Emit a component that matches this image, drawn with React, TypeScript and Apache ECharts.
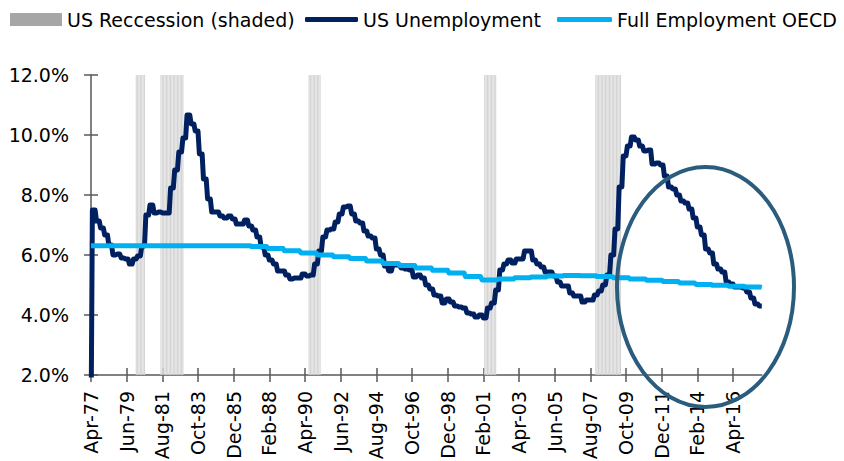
import React, { useEffect, useRef } from "react";
import * as echarts from "echarts";

const MONTHS = ["Jan", "Feb", "Mar", "Apr", "May", "Jun", "Jul", "Aug", "Sep", "Oct", "Nov", "Dec"];
const START_YEAR = 1977;
const START_MONTH = 3; // Apr
const MONTH_COUNT = 490; // Apr-77 .. Jan-18

// US unemployment rate, quarterly averages Q1-1977 .. Q3-2017 (%), each held for three months
const UNEMP_QUARTERLY = [
  7.5, 7.13, 6.9, 6.67,
  6.33, 6.0, 6.03, 5.9,
  5.87, 5.7, 5.87, 5.97,
  6.3, 7.33, 7.67, 7.4,
  7.43, 7.4, 7.4, 8.23,
  8.83, 9.43, 9.9, 10.67,
  10.37, 10.13, 9.37, 8.53,
  7.87, 7.43, 7.43, 7.3,
  7.23, 7.3, 7.2, 7.03,
  7.03, 7.17, 6.97, 6.83,
  6.6, 6.27, 6.0, 5.83,
  5.7, 5.47, 5.47, 5.33,
  5.2, 5.23, 5.23, 5.37,
  5.3, 5.33, 5.7, 6.13,
  6.6, 6.83, 6.87, 7.1,
  7.37, 7.6, 7.63, 7.37,
  7.13, 7.07, 6.8, 6.63,
  6.57, 6.2, 6.0, 5.63,
  5.47, 5.67, 5.67, 5.57,
  5.53, 5.5, 5.27, 5.33,
  5.23, 5.0, 4.87, 4.67,
  4.63, 4.4, 4.53, 4.43,
  4.3, 4.27, 4.23, 4.07,
  4.03, 3.93, 4.0, 3.9,
  4.23, 4.4, 4.83, 5.5,
  5.7, 5.83, 5.73, 5.87,
  5.87, 6.13, 6.13, 5.83,
  5.7, 5.6, 5.43, 5.43,
  5.3, 5.1, 4.97, 4.97,
  4.73, 4.63, 4.63, 4.43,
  4.5, 4.5, 4.67, 4.8,
  5.0, 5.33, 6.0, 6.87,
  8.27, 9.3, 9.63, 9.93,
  9.83, 9.63, 9.47, 9.5,
  9.03, 9.07, 9.0, 8.63,
  8.27, 8.2, 8.0, 7.8,
  7.73, 7.53, 7.23, 6.93,
  6.67, 6.2, 6.07, 5.7,
  5.53, 5.43, 5.1, 5.03,
  4.93, 4.93, 4.9, 4.77,
  4.57, 4.37, 4.3,
];
const UNEMP_FIRST_VALUE = 0; // the sheet's leading empty cell, drawn as a drop to the axis

// OECD full-employment (NAIRU) estimate, annual 1977 .. 2018 (%)
const OECD_ANNUAL = [
  6.31, 6.31, 6.31, 6.31, 6.31, 6.31, 6.31, 6.31, 6.31, 6.31,
  6.28, 6.22, 6.14, 6.07, 6.0, 5.94, 5.88, 5.8, 5.72, 5.65,
  5.57, 5.49, 5.4, 5.28, 5.17, 5.2, 5.24, 5.27, 5.3, 5.32,
  5.31, 5.28, 5.24, 5.2, 5.16, 5.12, 5.07, 5.02, 4.99, 4.96,
  4.93, 4.92,
];

// NBER recessions (first month, last month)
const RECESSIONS = [
  ["Jan-80", "Jul-80"],
  ["Jul-81", "Nov-82"],
  ["Jul-90", "Mar-91"],
  ["Mar-01", "Nov-01"],
  ["Dec-07", "Jun-09"],
];
const RECESSION_HEIGHT = 12;

const Y_MIN = 2;
const Y_MAX = 12;
const Y_STEP = 2;
const LABEL_EVERY = 26;

const NAMES = ["US Reccession (shaded)", "US Unemployment", "Full Employment OECD"];

const FONT = "DejaVu Sans";

function buildCategories() {
  const cats: string[] = [];
  const years: number[] = [];
  for (let i = 0; i < MONTH_COUNT; i++) {
    const m = START_MONTH + i;
    const y = START_YEAR + Math.floor(m / 12);
    cats.push(MONTHS[m % 12] + "-" + String(y % 100).padStart(2, "0"));
    years.push(y);
  }
  return { cats, years };
}

export default function App() {
  const ref = useRef<HTMLDivElement>(null);

  useEffect(() => {
    if (!ref.current) return;
    const chart = echarts.init(ref.current, undefined, { renderer: "svg" });
    const { cats, years } = buildCategories();

    const unemp: number[] = [UNEMP_FIRST_VALUE];
    UNEMP_QUARTERLY.forEach((v) => unemp.push(v, v, v));
    const oecd = years.map((y) => OECD_ANNUAL[y - START_YEAR]);
    const rec: (number | string)[] = cats.map(() => "-");
    RECESSIONS.forEach(([a, b]) => {
      const s = cats.indexOf(a);
      const e = cats.indexOf(b);
      for (let i = s; i <= e; i++) rec[i] = RECESSION_HEIGHT;
    });

    const axisColor = "#595959";
    const legendText = { fontFamily: FONT, fontSize: 19, color: "#000" };

    chart.setOption({
      animation: false,
      backgroundColor: "#fff",
      grid: {
        left: 91,
        right: 82.2,
        top: 75,
        bottom: 86,
        containLabel: false,
        outerBoundsMode: "none",
      },
      legend: [
        {
          left: 5,
          top: 5,
          selectedMode: false,
          itemWidth: 52,
          itemHeight: 13,
          textStyle: legendText,
          data: [{ name: NAMES[0], icon: "rect", itemStyle: { color: "#A6A6A6" } }],
        },
        {
          left: 300,
          top: 5,
          selectedMode: false,
          itemWidth: 53,
          itemHeight: 5,
          textStyle: legendText,
          data: [{ name: NAMES[1], icon: "roundRect", itemStyle: { color: "#002060" } }],
        },
        {
          left: 552,
          top: 5,
          selectedMode: false,
          itemWidth: 55,
          itemHeight: 5,
          textStyle: legendText,
          data: [{ name: NAMES[2], icon: "roundRect", itemStyle: { color: "#00B0F0" } }],
        },
      ],
      xAxis: [
        {
          type: "category",
          data: cats,
          boundaryGap: false,
          position: "bottom",
          axisLine: { show: true, onZero: false, lineStyle: { color: axisColor, width: 1.5 } },
          axisTick: { show: true, inside: false, length: 7, interval: LABEL_EVERY - 1, lineStyle: { color: axisColor, width: 1.5 } },
          axisLabel: {
            interval: LABEL_EVERY - 1,
            rotate: 90,
            margin: 16,
            fontFamily: FONT,
            fontSize: 19,
            color: "#000",
          },
          splitLine: { show: false },
        },
        {
          type: "category",
          data: cats,
          boundaryGap: false,
          position: "bottom",
          axisLine: { show: false, onZero: false },
          axisTick: { show: true, inside: true, length: 7, interval: LABEL_EVERY - 1, lineStyle: { color: axisColor, width: 1.5 } },
          axisLabel: { show: false },
          splitLine: { show: false },
        },
      ],
      yAxis: [
        {
          type: "value",
          min: Y_MIN,
          max: Y_MAX,
          interval: Y_STEP,
          position: "left",
          axisLine: { show: true, onZero: false, lineStyle: { color: axisColor, width: 1.5 } },
          axisTick: { show: true, inside: false, length: 7, lineStyle: { color: axisColor, width: 1.5 } },
          axisLabel: {
            margin: 22,
            fontFamily: FONT,
            fontSize: 19,
            color: "#000",
            formatter: (v: number) => v.toFixed(1) + "%",
          },
          splitLine: { show: false },
        },
        {
          type: "value",
          min: Y_MIN,
          max: Y_MAX,
          interval: Y_STEP,
          position: "left",
          axisLine: { show: false, onZero: false },
          axisTick: { show: true, inside: true, length: 7, lineStyle: { color: axisColor, width: 1.5 } },
          axisLabel: { show: false },
          splitLine: { show: false },
        },
      ],
      series: [
        {
          name: NAMES[0],
          type: "bar",
          data: rec,
          xAxisIndex: 0,
          yAxisIndex: 0,
          barCategoryGap: "20%",
          itemStyle: { color: "#D4D4D4" },
          z: 1,
        },
        {
          name: NAMES[1],
          type: "line",
          data: unemp,
          xAxisIndex: 0,
          yAxisIndex: 0,
          showSymbol: false,
          color: "#002060",
          lineStyle: { color: "#002060", width: 5, join: "round" },
          z: 3,
        },
        {
          name: NAMES[2],
          type: "line",
          data: oecd,
          xAxisIndex: 0,
          yAxisIndex: 0,
          showSymbol: false,
          color: "#00B0F0",
          lineStyle: { color: "#00B0F0", width: 5, join: "round" },
          z: 4,
        },
      ],
      graphic: [
        {
          type: "ellipse",
          shape: { cx: 705.5, cy: 287, rx: 88.5, ry: 120 },
          style: { fill: "none", stroke: "#2B5C7D", lineWidth: 4 },
          z: 100,
        },
      ],
    });

    return () => chart.dispose();
  }, []);

  return (
    <div
      ref={ref}
      style={{ position: "fixed", left: 0, top: 0, width: 844, height: 461, background: "#fff" }}
    />
  );
}
